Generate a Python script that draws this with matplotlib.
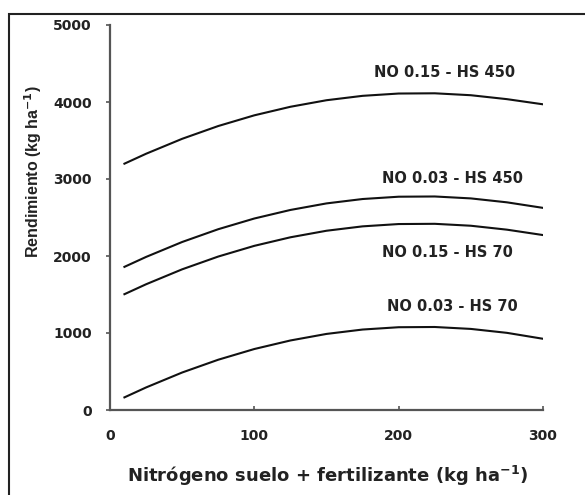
import matplotlib
matplotlib.use("Agg")
import matplotlib.pyplot as plt
from matplotlib.patches import Rectangle

# nitrogen available (soil + fertilizer), kg/ha
nitrogen = [10, 25, 50, 75, 100, 125, 150, 175, 200, 225, 250, 275, 300]

# yield response curves, kg/ha
yield_no015_hs450 = [3199, 3328, 3522, 3688, 3827, 3938, 4023, 4080, 4110, 4113, 4088, 4037, 3970]
yield_no003_hs450 = [1859, 1988, 2182, 2348, 2487, 2598, 2683, 2740, 2770, 2773, 2748, 2697, 2625]
yield_no015_hs70 = [1504, 1633, 1827, 1993, 2132, 2243, 2328, 2385, 2415, 2418, 2393, 2342, 2272]
yield_no003_hs70 = [164, 293, 487, 653, 792, 903, 988, 1045, 1075, 1078, 1053, 1002, 925]

series = [yield_no015_hs450, yield_no003_hs450, yield_no015_hs70, yield_no003_hs70]
labels = ["NO 0.15 - HS 450", "NO 0.03 - HS 450", "NO 0.15 - HS 70", "NO 0.03 - HS 70"]
label_pos = [(232, 4380), (237, 3010), (234, 2050), (237, 1350)]

plt.rcParams['font.family'] = ['DejaVu Sans']
plt.rcParams['font.weight'] = 'bold'

fig = plt.figure(figsize=(5.85, 4.95), dpi=100)
ax = fig.add_axes([110 / 585, 1 - 410 / 495, 433 / 585, 385 / 495])

for ys in series:
    ax.plot(nitrogen, ys, color='#111111', lw=1.5)

for text, (tx, ty) in zip(labels, label_pos):
    ax.text(tx, ty, text, ha='center', va='center', fontsize=10.5,
            fontweight='bold', color='#222222')

ax.set_xlim(0, 300)
ax.set_ylim(0, 5000)
ax.set_xticks([0, 100, 200, 300])
ax.set_yticks([0, 1000, 2000, 3000, 4000, 5000])

for side in ['top', 'right']:
    ax.spines[side].set_visible(False)
for side in ['left', 'bottom']:
    ax.spines[side].set_color('#555555')
    ax.spines[side].set_linewidth(1.6)

ax.tick_params(axis='x', direction='in', length=3, width=1.2, color='#555555',
               labelsize=10, pad=14, labelcolor='#222222')
ax.tick_params(axis='y', direction='out', length=3, width=1.2, color='#555555',
               labelsize=10, pad=10, labelcolor='#222222')
for lbl in ax.get_xticklabels() + ax.get_yticklabels():
    lbl.set_fontweight('bold')

ax.set_xlabel('Nitrógeno suelo + fertilizante (kg ha$^{\\mathbf{-1}}$)',
              fontsize=13, fontweight='bold', color='#222222')
ax.set_ylabel('Rendimiento (kg ha$^{\\mathbf{-1}}$)', family='Liberation Sans',
              fontsize=11.5, fontweight='bold', color='#222222')
ax.xaxis.set_label_coords(0.502, -0.14)
ax.yaxis.set_label_coords(-0.152, 0.618)

# outer frame around the figure
fig.patches.append(Rectangle((8.5 / 585, -0.1), 1.2, 1 - 14 / 495 + 0.1,
                             transform=fig.transFigure, fill=False,
                             edgecolor='#222222', lw=1.5))

fig.savefig('out.png', dpi=100)
